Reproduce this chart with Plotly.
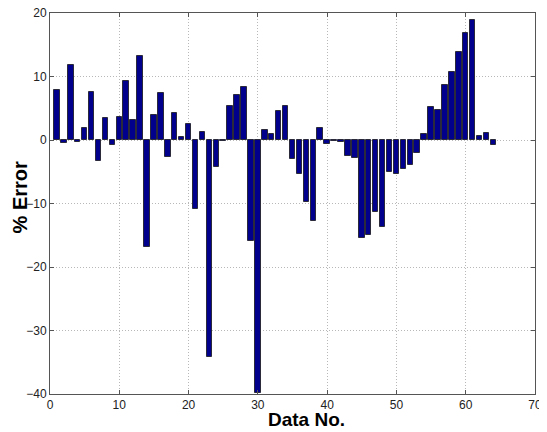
import plotly.graph_objects as go

data_no = list(range(1, 65))
pct_error = [
    7.9, -0.4, 11.8, -0.3, 1.9, 7.5, -3.3, 3.4, -0.8, 3.6,
    9.3, 3.2, 13.3, -16.9, 3.9, 7.4, -2.6, 4.3, 0.4, 2.5,
    -10.9, 1.3, -34.2, -4.3, -0.1, 5.4, 7.05, 8.4, -15.9, -39.8,
    1.6, 0.95, 4.5, 5.3, -3.05, -5.4, -9.7, -12.7, 1.95, -0.6,
    -0.1, -0.3, -2.5, -2.9, -15.4, -14.9, -11.4, -13.7, -5.05, -5.4,
    -4.6, -3.9, -2.0, 1.0, 5.2, 4.8, 8.7, 10.7, 13.8, 16.9,
    18.9, 0.6, 1.1, -0.8,
]
x_ticks = [0, 10, 20, 30, 40, 50, 60, 70]
y_ticks = [-40, -30, -20, -10, 0, 10, 20]

font_family = "Arial, Liberation Sans, sans-serif"

fig = go.Figure(
    go.Bar(
        x=data_no,
        y=pct_error,
        width=0.8,
        marker=dict(color="#00008c", line=dict(color="#2a2a3a", width=1)),
    )
)

axis_common = dict(
    showline=True,
    linecolor="#555555",
    linewidth=1,
    mirror="ticks",
    ticks="inside",
    ticklen=4,
    tickcolor="#555555",
    showgrid=True,
    gridcolor="#b8b8b8",
    gridwidth=1,
    griddash="1px,2px",
    zeroline=False,
    automargin=False,
    ticklabeloverflow="allow",
    tickfont=dict(family=font_family, size=12, color="#222222"),
)

fig.update_xaxes(range=[0, 70], tickvals=x_ticks, **axis_common)
fig.update_yaxes(range=[-40, 20], tickvals=y_ticks, **axis_common)

fig.update_layout(
    width=547,
    height=432,
    margin=dict(l=42, r=20, t=5, b=46),
    paper_bgcolor="white",
    plot_bgcolor="white",
    showlegend=False,
    bargap=0,
    annotations=[
        dict(
            text="<b>Data No.</b>",
            xref="paper", yref="paper",
            x=0.528, y=-0.066,
            xanchor="center", yanchor="middle",
            showarrow=False,
            font=dict(family=font_family, size=19, color="black"),
        ),
        dict(
            text="<b>% Error</b>",
            xref="paper", yref="paper",
            x=-0.061, y=0.517,
            xanchor="center", yanchor="middle",
            textangle=-90,
            showarrow=False,
            font=dict(family=font_family, size=20, color="black"),
        ),
    ],
)

fig.write_html("out.html")
